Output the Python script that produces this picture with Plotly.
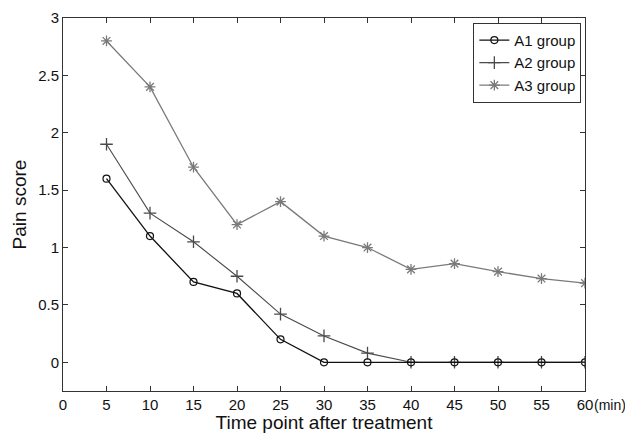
import plotly.graph_objects as go

time_points = [5, 10, 15, 20, 25, 30, 35, 40, 45, 50, 55, 60]
a1_scores = [1.6, 1.1, 0.7, 0.6, 0.2, 0, 0, 0, 0, 0, 0, 0]
a2_scores = [1.9, 1.3, 1.05, 0.75, 0.42, 0.23, 0.08, 0, 0, 0, 0, 0]
a3_scores = [2.8, 2.4, 1.7, 1.2, 1.4, 1.1, 1.0, 0.81, 0.86, 0.79, 0.73, 0.69]
series_names = ["A1 group", "A2 group", "A3 group"]
x_ticks = [0, 5, 10, 15, 20, 25, 30, 35, 40, 45, 50, 55, 60]
y_ticks = [0, 0.5, 1, 1.5, 2, 2.5, 3]
y_tick_labels = ["0", "0.5", "1", "1.5", "2", "2.5", "3"]

font_family = "Liberation Sans, Arial, sans-serif"

fig = go.Figure()
fig.add_trace(go.Scatter(x=time_points, y=a3_scores, name=series_names[2], mode="lines+markers",
                         line=dict(color="#7a7a7a", width=1.3),
                         marker=dict(symbol="asterisk-open", size=9, color="#7a7a7a", line=dict(width=1.3, color="#7a7a7a"))))
fig.add_trace(go.Scatter(x=time_points, y=a2_scores, name=series_names[1], mode="lines+markers",
                         line=dict(color="#4a4a4a", width=1.1),
                         marker=dict(symbol="cross-thin-open", size=9, color="#4a4a4a", line=dict(width=1.3, color="#4a4a4a"))))
fig.add_trace(go.Scatter(x=time_points, y=a1_scores, name=series_names[0], mode="lines+markers",
                         line=dict(color="#111111", width=1.3),
                         marker=dict(symbol="circle-open", size=7, color="#111111", line=dict(width=1.2, color="#111111"))))

fig.update_layout(
    width=625, height=425,
    margin=dict(l=55, r=48, t=10, b=42, autoexpand=False),
    paper_bgcolor="white", plot_bgcolor="white",
    font=dict(family=font_family, size=15, color="#111111"),
    showlegend=True,
    legend=dict(x=0.993, y=0.987, xanchor="right", yanchor="top", traceorder="reversed",
                bordercolor="#333333", borderwidth=1, bgcolor="white",
                font=dict(size=15), tracegroupgap=0, itemwidth=30),
    xaxis=dict(range=[0, 60], tickvals=x_ticks, ticks="inside", ticklen=5, tickcolor="#333333",
               showline=True, linecolor="#333333", linewidth=1, mirror="ticks", showgrid=False,
               zeroline=False, tickfont=dict(size=15), automargin=False,
               title=dict(text="Time point after treatment", font=dict(size=19), standoff=4)),
    yaxis=dict(range=[-0.25, 3], tickvals=y_ticks, ticktext=y_tick_labels, ticks="inside", ticklen=5,
               tickcolor="#333333", showline=True, linecolor="#333333", linewidth=1, mirror="ticks",
               showgrid=False, zeroline=False, tickfont=dict(size=15), automargin=False,
               title=dict(text="Pain score", font=dict(size=19), standoff=6)),
)
fig.add_annotation(text="(min)", xref="paper", yref="paper", x=1.0, y=0, xanchor="left", yanchor="top",
                   xshift=7, yshift=-4, showarrow=False, font=dict(size=14))

fig.write_html("out.html")
